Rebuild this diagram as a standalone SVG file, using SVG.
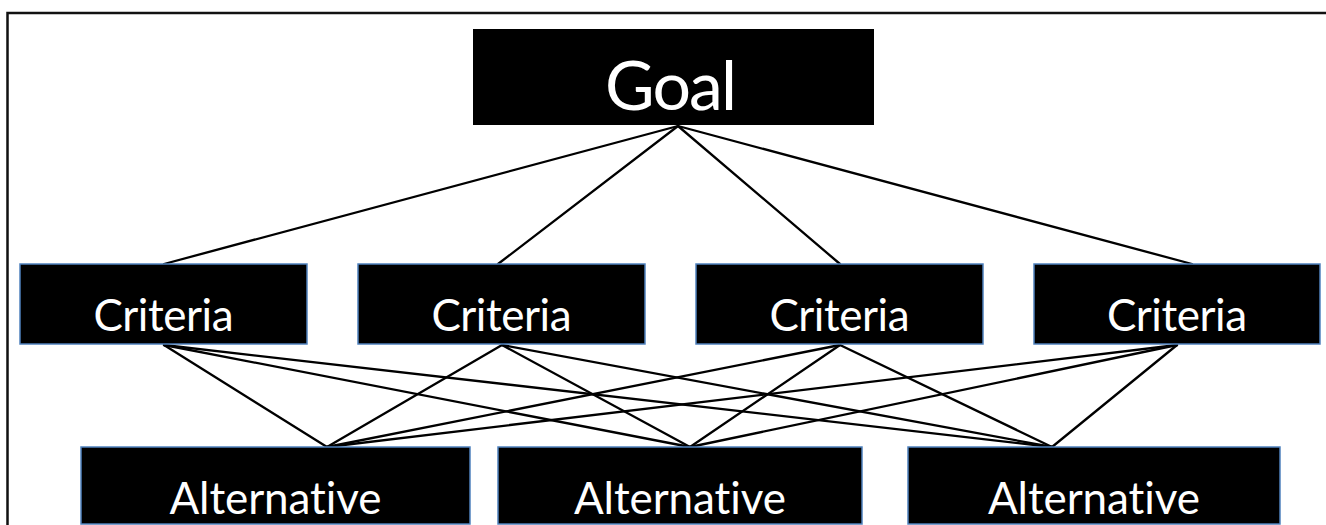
<svg xmlns="http://www.w3.org/2000/svg" width="1326" height="525" viewBox="0 0 1326 525">
<style>
.box{fill:#000;stroke:#4f81bd;stroke-width:1.5}
.goal{fill:#000}
.lbl{fill:#fff;font-family:Lato,"Open Sans","Liberation Sans",sans-serif;text-anchor:middle;font-variant-ligatures:none;font-feature-settings:"liga" 0,"clig" 0}
.conn line{stroke:#000;stroke-width:2.3;stroke-linecap:round}
</style>
<rect width="1326" height="525" fill="#fff"/>
<path d="M7.5,525 V13 H1326" fill="none" stroke="#111" stroke-width="2.5"/>
<g class="conn" id="connectors">
<line x1="678" y1="126" x2="164" y2="264"/>
<line x1="678" y1="126" x2="498" y2="264"/>
<line x1="678" y1="126" x2="840" y2="264"/>
<line x1="678" y1="126" x2="1192" y2="264"/>
<line x1="164" y1="345" x2="327" y2="447"/>
<line x1="164" y1="345" x2="690" y2="447"/>
<line x1="164" y1="345" x2="1052" y2="447"/>
<line x1="502" y1="345" x2="327" y2="447"/>
<line x1="502" y1="345" x2="690" y2="447"/>
<line x1="502" y1="345" x2="1052" y2="447"/>
<line x1="840" y1="345" x2="327" y2="447"/>
<line x1="840" y1="345" x2="690" y2="447"/>
<line x1="840" y1="345" x2="1052" y2="447"/>
<line x1="1177" y1="345" x2="327" y2="447"/>
<line x1="1177" y1="345" x2="690" y2="447"/>
<line x1="1177" y1="345" x2="1052" y2="447"/>
</g>
<g id="goal">
<rect class="goal" x="473" y="29" width="401" height="96"/>
<text class="lbl" x="671" y="110" font-size="68" textLength="132">Goal</text>
</g>
<g id="criteria1">
<rect class="box" x="20" y="264" width="287" height="80"/>
<text class="lbl" x="163.5" y="331" font-size="44" textLength="140">Criteria</text>
</g>
<g id="criteria2">
<rect class="box" x="358" y="264" width="287" height="80"/>
<text class="lbl" x="501.5" y="331" font-size="44" textLength="140">Criteria</text>
</g>
<g id="criteria3">
<rect class="box" x="696" y="264" width="287" height="80"/>
<text class="lbl" x="839.5" y="331" font-size="44" textLength="140">Criteria</text>
</g>
<g id="criteria4">
<rect class="box" x="1034" y="264" width="286" height="80"/>
<text class="lbl" x="1177" y="331" font-size="44" textLength="140">Criteria</text>
</g>
<g id="alternative1">
<rect class="box" x="81" y="447" width="389" height="77"/>
<text class="lbl" x="275.5" y="514" font-size="44" textLength="212">Alternative</text>
</g>
<g id="alternative2">
<rect class="box" x="498" y="447" width="364" height="77"/>
<text class="lbl" x="680" y="514" font-size="44" textLength="212">Alternative</text>
</g>
<g id="alternative3">
<rect class="box" x="908" y="447" width="372" height="77"/>
<text class="lbl" x="1094" y="514" font-size="44" textLength="212">Alternative</text>
</g>
</svg>
